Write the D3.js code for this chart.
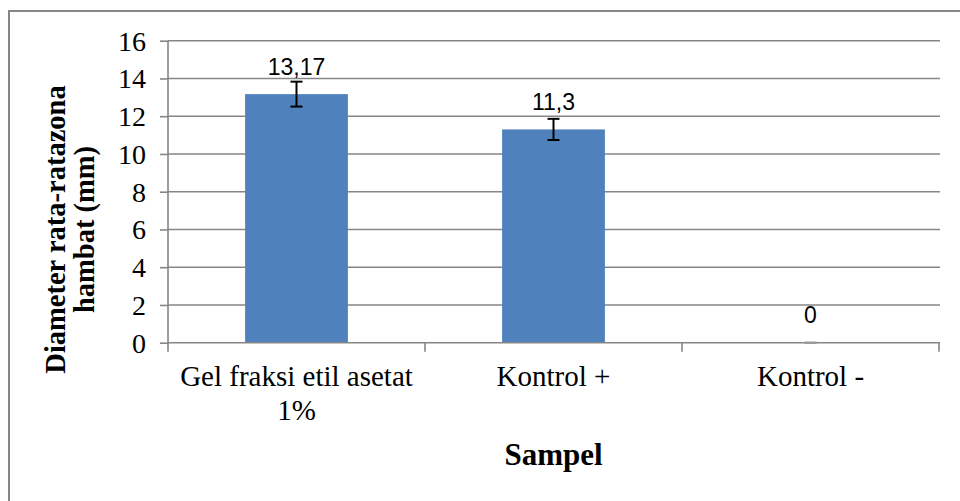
<!DOCTYPE html>
<html><head><meta charset="utf-8">
<script src="https://cdn.jsdelivr.net/npm/d3@7"></script>
<style>body{margin:0;background:#fff}svg{display:block}</style>
</head><body>
<script>
const categories = [["Gel fraksi etil asetat","1%"],["Kontrol +"],["Kontrol -"]];
const values = [13.17, 11.3, 0];
const errors = [0.66, 0.56, 0];
const valueLabels = ["13,17","11,3","0"];
const yTicks = [0,2,4,6,8,10,12,14,16];
const yTitle = ["Diameter rata-ratazona","hambat (mm)"];
const xTitle = "Sampel";

const SERIF="Liberation Serif", SANS="Liberation Sans";
const W=960,H=501;
const svg=d3.select("body").append("svg").attr("width",W).attr("height",H);
svg.append("rect").attr("x",9).attr("y",11).attr("width",980).attr("height",520)
  .attr("fill","none").attr("stroke","#868686").attr("stroke-width",2);

const L=168,R=939,T=40.7,B=342.7;
const x=d3.scaleBand().domain(d3.range(categories.length)).range([L,R]).paddingInner(0.6).paddingOuter(0.3);
const xb=d3.scaleBand().domain(d3.range(categories.length)).range([L,R]);
const y=d3.scaleLinear().domain([0,16]).range([B,T]);

// gridlines
svg.append("g").selectAll("line").data(yTicks.filter(d=>d>0)).join("line")
  .attr("x1",L).attr("x2",R+1).attr("y1",d=>y(d)).attr("y2",d=>y(d))
  .attr("stroke","#868686").attr("stroke-width",1.6);

// bars
svg.append("g").selectAll("rect").data(values).join("rect")
  .attr("x",(d,i)=>x(i)).attr("width",x.bandwidth())
  .attr("y",d=>y(d)).attr("height",d=>B-y(d)).attr("fill","#4F81BD");

// axes
const ya=svg.append("g").attr("transform",`translate(${L},0)`)
  .call(d3.axisLeft(y).tickValues(yTicks).tickSize(8).tickPadding(14));
ya.attr("font-family",SERIF).attr("font-size",28);
ya.select(".domain").attr("stroke","#868686").attr("stroke-width",1.6).attr("d",`M0,${T}V${B}`);
ya.selectAll(".tick line").attr("stroke","#868686").attr("stroke-width",1.6);
ya.selectAll(".tick text").attr("font-family",SERIF).attr("font-size",28).attr("fill","#000").attr("dy","0.34em");

const xa=svg.append("g").attr("transform",`translate(0,${B})`);
xa.append("line").attr("x1",L).attr("x2",R+1).attr("y1",0).attr("y2",0)
  .attr("stroke","#868686").attr("stroke-width",1.6);
xa.selectAll("line.t").data(d3.range(categories.length+1)).join("line").attr("class","t")
  .attr("x1",i=>L+i*xb.bandwidth()).attr("x2",i=>L+i*xb.bandwidth())
  .attr("y1",0).attr("y2",9).attr("stroke","#868686").attr("stroke-width",1.6);
const ct=xa.selectAll("text").data(categories).join("text")
  .attr("text-anchor","middle").attr("font-family",SERIF)
  .attr("font-size",29).attr("fill","#000");
ct.each(function(lines,i){
  d3.select(this).selectAll("tspan").data(lines).join("tspan")
    .attr("x",xb(i)+xb.bandwidth()/2).attr("y",(d,j)=>43+j*34).text(d=>d);
});

// error bars
const eb=svg.append("g").attr("stroke-width",2);
values.forEach((v,i)=>{
  const cx=x(i)+x.bandwidth()/2, e=errors[i];
  const col = e===0 ? "#999" : "#000";
  eb.append("line").attr("x1",cx).attr("x2",cx).attr("y1",y(v+e)).attr("y2",y(v-e)).attr("stroke",col);
  eb.append("line").attr("x1",cx-6).attr("x2",cx+6).attr("y1",y(v+e)).attr("y2",y(v+e)).attr("stroke",col);
  eb.append("line").attr("x1",cx-6).attr("x2",cx+6).attr("y1",y(v-e)).attr("y2",y(v-e)).attr("stroke",col);
});

// value labels
svg.append("g").selectAll("text").data(values).join("text")
  .attr("x",(d,i)=>x(i)+x.bandwidth()/2).attr("y",d=>y(d)-19.5)
  .attr("text-anchor","middle").attr("font-family",SANS)
  .attr("font-size",23).attr("fill","#000").text((d,i)=>valueLabels[i]);

// y title
const yt=svg.append("text").attr("transform","translate(0,229.5) rotate(-90)")
  .attr("text-anchor","middle").attr("font-family",SERIF)
  .attr("font-weight","bold").attr("font-size",28.5).attr("fill","#000");
yt.selectAll("tspan").data(yTitle).join("tspan").attr("x",0).attr("y",(d,i)=>65+i*29).text(d=>d);

// x title
svg.append("text").attr("x",(L+R)/2).attr("y",465).attr("text-anchor","middle")
  .attr("font-family",SERIF).attr("font-weight","bold")
  .attr("font-size",31).attr("fill","#000").text(xTitle);
</script>
</body></html>
